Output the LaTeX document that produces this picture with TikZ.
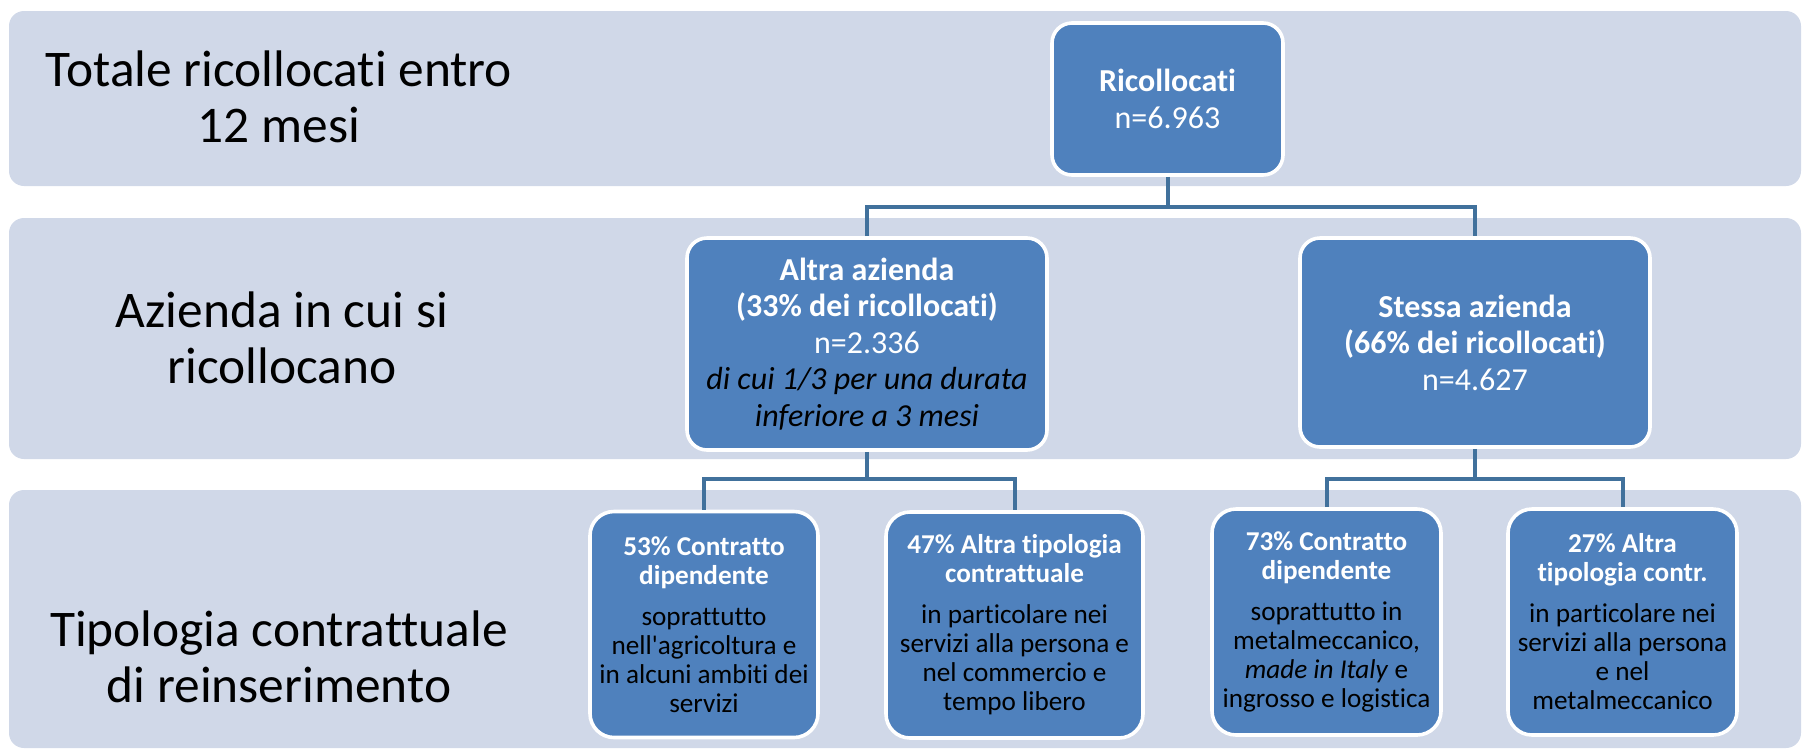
\documentclass[tikz,border=0pt]{standalone}
\usepackage{fontspec}
\setmainfont{Carlito}[Ligatures={TeX,NoCommon}]
\begin{document}
\begin{tikzpicture}[x=0.5pt,y=-0.5pt,
    band/.style={fill=bandfill, rounded corners=7.5pt},
    side/.style={align=center, font=\fontsize{25.7}{28}\selectfont},
    box/.style={draw=white, line width=1.8pt, fill=boxfill, rounded corners=10pt,
        align=center, text=white, inner sep=0pt, font=\fontsize{16}{18.2}\selectfont},
    sub/.style={box, rounded corners=12pt, font=\fontsize{13.6}{14.5}\selectfont,
        minimum width=114.5pt, minimum height=113pt},
    link/.style={draw=linkcol, line width=2pt}]
    \definecolor{bandfill}{HTML}{D0D8E8}
    \definecolor{boxfill}{HTML}{4F81BD}
    \definecolor{linkcol}{HTML}{41719C}

    \useasboundingbox (0,0) rectangle (1804,751);

    % fasce
    \fill[band] (9,11) rectangle (1801,186);
    \fill[band] (9,218) rectangle (1801,459);
    \fill[band] (9,490) rectangle (1801,748);

    \node[side] (lab1) at (279,97) {Totale ricollocati entro\\ 12 mesi};
    \node[side] (lab2) at (282,338) {Azienda in cui si\\ ricollocano};
    \node[side] (lab3) at (279,657) {Tipologia contrattuale\\ di reinserimento};

    \node[box, minimum width=115.5pt, minimum height=76pt] (ric) at (1167.5,99)
        {\textbf{Ricollocati}\\ n=6.963};

    \node[box, minimum width=180pt, minimum height=106pt] (altra) at (867,344)
        {\textbf{Altra azienda}\\ \textbf{(33\% dei ricollocati)}\\ n=2.336\\
         \textcolor{black}{\itshape di cui 1/3 per una durata}\\
         \textcolor{black}{\itshape inferiore a 3 mesi}};
    \node[box, minimum width=175pt, minimum height=104.5pt] (stessa) at (1475,342.5)
        {\textbf{Stessa azienda}\\ \textbf{(66\% dei ricollocati)}\\ n=4.627};

    \node[sub, minimum width=114pt] (dipA) at (704,624.5)
        {\textbf{53\% Contratto}\\ \textbf{dipendente}\\[6pt]
         \textcolor{black}{soprattutto}\\ \textcolor{black}{nell\textquotesingle agricoltura e}\\
         \textcolor{black}{in alcuni ambiti dei}\\ \textcolor{black}{servizi}};
    \node[sub, minimum width=128.5pt] (altA) at (1014.5,625)
        {\textbf{47\% Altra tipologia}\\ \textbf{contrattuale}\\[6pt]
         \textcolor{black}{in particolare nei}\\ \textcolor{black}{servizi alla persona e}\\
         \textcolor{black}{nel commercio e}\\ \textcolor{black}{tempo libero}};
    \node[sub] (dipS) at (1326.5,622)
        {\textbf{73\% Contratto}\\ \textbf{dipendente}\\[6pt]
         \textcolor{black}{soprattutto in}\\ \textcolor{black}{metalmeccanico,}\\
         \textcolor{black}{\textit{made in Italy} e}\\ \textcolor{black}{ingrosso e logistica}};
    \node[sub] (altS) at (1622.5,622)
        {\textbf{27\% Altra}\\ \textbf{tipologia contr.}\\[6pt]
         \textcolor{black}{in particolare nei}\\ \textcolor{black}{servizi alla persona}\\
         \textcolor{black}{e nel}\\ \textcolor{black}{metalmeccanico}};

    % collegamenti
    \coordinate (j0) at (1167.5,207);
    \coordinate (j1) at (867,479);
    \coordinate (j2) at (1475,479);

    \draw[link] (ric.south) -- (j0);
    \draw[link] (altra.north) |- (j0) -| (stessa.north);
    \draw[link] (altra.south) -- (j1);
    \draw[link] (dipA.north) |- (j1) -| (altA.north);
    \draw[link] (stessa.south) -- (j2);
    \draw[link] (dipS.north) |- (j2) -| (altS.north);

\end{tikzpicture}
\end{document}
